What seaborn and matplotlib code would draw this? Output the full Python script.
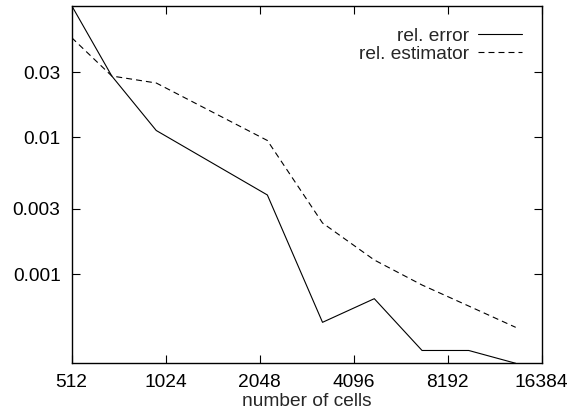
import matplotlib
matplotlib.use("Agg")
import matplotlib.pyplot as plt
from matplotlib.ticker import FixedLocator, FixedFormatter, NullLocator
import numpy as np
import pandas as pd
import seaborn as sns

# number of cells after each refinement step
cells = [512, 688, 955, 2167, 3255, 4768, 6781, 9568, 13528]
rel_error = [0.0916, 0.02805, 0.01121, 0.003787, 0.000444, 0.000661,
             0.0002764, 0.0002764, 0.0002228]
rel_estimator = [0.05346, 0.02805, 0.02493, 0.009476, 0.002363, 0.001268,
                 0.000832, 0.000584, 0.000408]

series_names = ["rel. error", "rel. estimator"]
x_ticks = [512, 1024, 2048, 4096, 8192, 16384]
y_ticks = [0.001, 0.003, 0.01, 0.03]
y_tick_labels = ["0.001", "0.003", "0.01", "0.03"]

df = pd.DataFrame({
    "cells": cells * 2,
    "value": rel_error + rel_estimator,
    "series": [series_names[0]] * len(cells) + [series_names[1]] * len(cells),
})

sns.set_theme(style="ticks")
plt.rcParams["font.family"] = ["Liberation Sans", "DejaVu Sans"]
plt.rcParams["lines.scale_dashes"] = False

fs = 13.8

fig = plt.figure(figsize=(5.7, 4.15), dpi=100)
ax = fig.add_axes([0.1258, 0.1246, 0.8245, 0.8617])

sns.lineplot(
    data=df, x="cells", y="value", hue="series", style="series",
    palette=["black", "black"], dashes=[(None, None), (4.3, 2.9)],
    linewidth=0.8, sort=False, ax=ax,
)

ax.set_xscale("log", base=2)
ax.set_yscale("log")
ax.set_xlim(512, 16384)
ax.set_ylim(min(rel_error), max(rel_error))

ax.xaxis.set_major_locator(FixedLocator(x_ticks))
ax.xaxis.set_major_formatter(FixedFormatter([str(v) for v in x_ticks]))
ax.xaxis.set_minor_locator(NullLocator())
ax.yaxis.set_major_locator(FixedLocator(y_ticks))
ax.yaxis.set_major_formatter(FixedFormatter(y_tick_labels))
ax.yaxis.set_minor_locator(NullLocator())

ax.tick_params(axis="both", which="major", direction="in", length=6,
               width=0.8, labelsize=fs, colors="black",
               top=True, right=True, pad=8)
for s in ax.spines.values():
    s.set_linewidth(1.0)
    s.set_color("black")

ax.set_xlabel("number of cells", fontsize=fs, labelpad=1.5)
ax.set_ylabel("")

handles, labels = ax.get_legend_handles_labels()
ax.legend(handles, labels, loc="upper right", bbox_to_anchor=(0.958, 0.94),
          frameon=False, markerfirst=False, fontsize=fs,
          handlelength=2.3, handletextpad=0.45, labelspacing=0.05,
          borderpad=0, borderaxespad=0)

fig.savefig("out.png", dpi=100)
